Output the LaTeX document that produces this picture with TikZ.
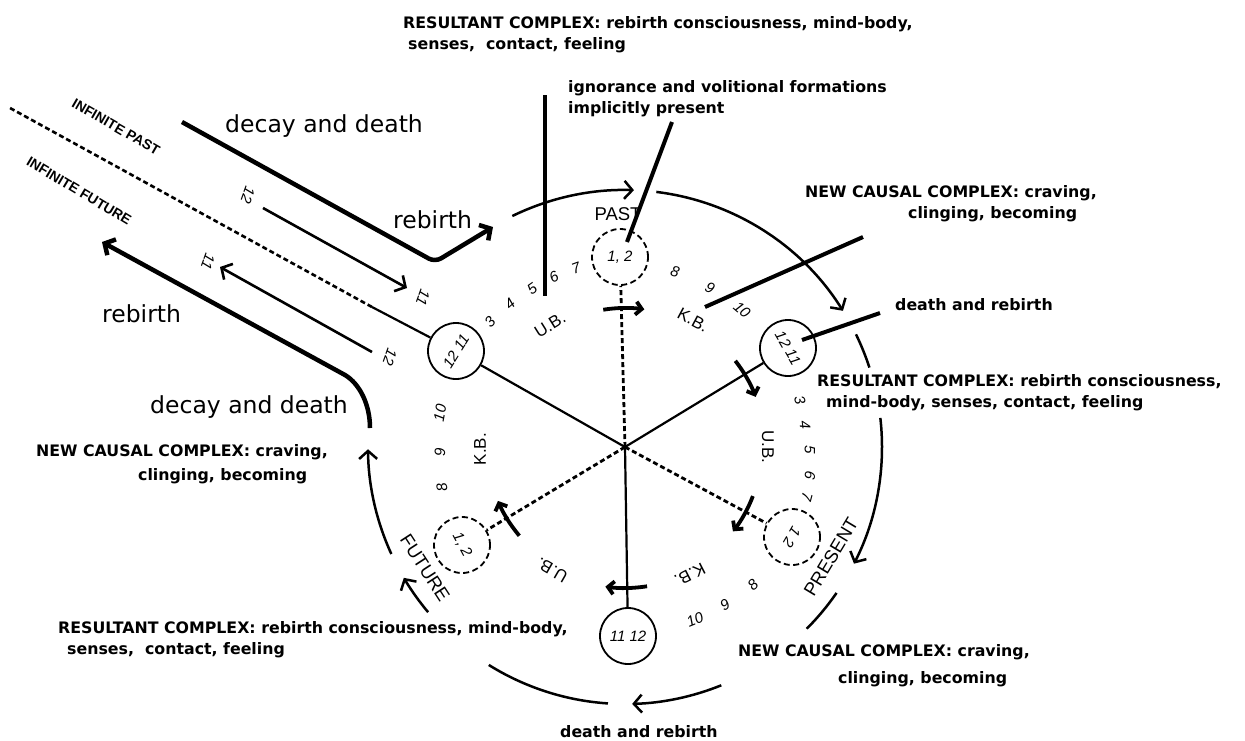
\documentclass[tikz,border=0pt]{standalone}
\usepackage{fontspec}
\setmainfont{DejaVu Sans}
\newfontfamily\lab{Liberation Sans}
\usetikzlibrary{arrows.meta,calc}
\begin{document}
\begin{tikzpicture}[x=1pt,y=1pt,
  boldlbl/.style={anchor=base west, inner sep=0, font=\bfseries\fontsize{15.8}{20}\selectfont},
  biglbl/.style={anchor=base west, inner sep=0, font=\fontsize{23.5}{28}\selectfont},
  cyclbl/.style={inner sep=0, font=\lab\fontsize{18.5}{18.5}\selectfont},
  inflbl/.style={inner sep=0, font=\lab\bfseries\fontsize{14}{14}\selectfont},
  ublbl/.style={inner sep=0, font=\lab\fontsize{17}{17}\selectfont},
  numlbl/.style={inner sep=0, font=\lab\itshape\fontsize{15}{15}\selectfont},
  cnum/.style={inner sep=0, font=\lab\itshape\fontsize{15}{15}\selectfont},
  solidc/.style={circle, draw, line width=1.8pt, minimum size=56pt, inner sep=0},
  dashc/.style={solidc, dash pattern=on 6pt off 3.5pt},
  spoke/.style={line width=2.2pt},
  dspoke/.style={line width=2.8pt, dash pattern=on 5pt off 3pt},
  outerarc/.style={line width=2.5pt},
  barb/.style={-{Straight Barb[length=8pt,width=18pt]}},
  tickarr/.style={line width=3.8pt, -{Straight Barb[length=6pt,width=13pt]}},
  leader/.style={line width=4pt},
  heavy/.style={line width=4.5pt},
  thinarr/.style={line width=2.6pt}
]
\useasboundingbox[fill=white] (0,0) rectangle (1245,-740);

% centre and circles
\coordinate (C) at (625,-447);
\node[dashc] (past) at (620,-257) {};
\node[solidc] (ul) at (456,-351) {};
\node[solidc] (ur) at (788,-348) {};
\node[dashc] (lr) at (792,-537) {};
\node[solidc] (bot) at (628,-636) {};
\node[dashc] (ll) at (462,-545) {};

\node[cnum] at (past) {1, 2};
\node[cnum, rotate=58] at (ul) {12 11};
\node[cnum, rotate=-60] at (ur) {12 11};
\node[cnum, rotate=-120] at (lr) {1 2};
\node[cnum] at (bot) {11 12};
\node[cnum, rotate=-62] at (ll) {1, 2};

% spokes
\draw[dspoke] (C) -- (past);
\draw[spoke] (C) -- (ul);
\draw[spoke] (C) -- (ur);
\draw[dspoke] (C) -- (lr);
\draw[spoke] (C) -- (bot);
\draw[dspoke] (C) -- (ll);

% ticks crossing the spokes
\draw[tickarr] ($(C)+(99:139pt)$) arc[start angle=99, end angle=82, radius=139pt];
\draw[tickarr] ($(C)+(38:140pt)$) arc[start angle=38, end angle=21, radius=140pt];
\draw[tickarr] ($(C)+(-21:137pt)$) arc[start angle=-21, end angle=-38, radius=137pt];
\draw[tickarr] ($(C)+(-81:141pt)$) arc[start angle=-81, end angle=-98, radius=141pt];
\draw[tickarr] ($(C)+(-140:138pt)$) arc[start angle=-140, end angle=-157, radius=138pt];

% outer cycle arcs
\draw[outerarc, barb] ($(C)+(116:257pt)$) arc[start angle=116, end angle=88, radius=257pt];
\draw[outerarc, barb] ($(C)+(83:257pt)$) arc[start angle=83, end angle=32, radius=257pt];
\draw[outerarc] ($(C)+(26:257pt)$) arc[start angle=26, end angle=18, radius=257pt];
\draw[outerarc, barb] ($(C)+(6.5:257pt)$) arc[start angle=6.5, end angle=-27, radius=257pt];
\draw[outerarc] ($(C)+(-34.6:257pt)$) arc[start angle=-34.6, end angle=-45, radius=257pt];
\draw[outerarc, barb] ($(C)+(-68:257pt)$) arc[start angle=-68, end angle=-88.4, radius=257pt];
\draw[outerarc] ($(C)+(-93.8:257pt)$) arc[start angle=-93.8, end angle=-122, radius=257pt];
\draw[outerarc, barb] ($(C)+(-140:257pt)$) arc[start angle=-140, end angle=-149.4, radius=257pt];
\draw[outerarc, barb] ($(C)+(-155.4:257pt)$) arc[start angle=-155.4, end angle=-179.5, radius=257pt];

% line to the infinite
\coordinate (ds) at (372,-307);
\coordinate (inf) at (10,-108);
\draw[spoke] (ul) -- (ds);
\draw[line width=2.6pt, dash pattern=on 5pt off 3pt] (ds) -- (inf);

% decay and death / rebirth strokes
\coordinate (dd1) at (182,-122);
\coordinate (dd2) at (435,-262);
\coordinate (rb1) at (493,-227);
\draw[heavy, barb, rounded corners=7pt] (dd1) -- (dd2) -- (rb1);
\coordinate (dd3) at (370,-428);
\coordinate (dd4) at (345,-375);
\coordinate (rb2) at (102,-242);
\draw[heavy, barb] (dd3) .. controls (370,-405) and (360,-384) .. (dd4) -- (rb2);

% thin arrows
\coordinate (t1a) at (263,-208);
\coordinate (t1b) at (407,-288);
\coordinate (t2a) at (372,-352);
\coordinate (t2b) at (220,-267);
\draw[thinarr, barb] (t1a) -- (t1b);
\draw[thinarr, barb] (t2a) -- (t2b);
\node[numlbl, rotate=-110] at (248,-195) {12};
\node[numlbl, rotate=-110] at (423,-298) {11};
\node[numlbl, rotate=-110] at (208,-262) {11};
\node[numlbl, rotate=-110] at (390,-357) {12};

\node[inflbl, rotate=-30] at (116,-127) {INFINITE PAST};
\node[inflbl, rotate=-31] at (79,-191) {INFINITE FUTURE};

% leader lines
\coordinate (la) at (545,-95);
\coordinate (lb) at (545,-296);
\coordinate (lc) at (672,-122);
\coordinate (ld) at (627,-242);
\coordinate (le) at (863,-237);
\coordinate (lf) at (705,-307);
\coordinate (lg) at (880,-313);
\coordinate (lh) at (802,-340);
\draw[leader] (la) -- (lb);
\draw[leader] (lc) -- (ld);
\draw[leader] (le) -- (lf);
\draw[leader] (lg) -- (lh);

% cycle labels
\node[cyclbl] at (618,-214) {PAST};
\node[cyclbl, rotate=59] at (831,-557) {PRESENT};
\node[cyclbl, rotate=-57] at (425,-568) {FUTURE};

\node[ublbl, rotate=32] at (550,-325) {U.B.};
\node[ublbl, rotate=-28] at (693,-320) {K.B.};
\node[ublbl, rotate=-90] at (768,-447) {U.B.};
\node[ublbl, rotate=-153] at (690,-575) {K.B.};
\node[ublbl, rotate=150] at (552,-570) {U.B.};
\node[ublbl, rotate=90] at (480,-449) {K.B.};

% numbers round the cycle
\node[numlbl, rotate=47] at (490,-322) {3};
\node[numlbl, rotate=41] at (510,-304) {4};
\node[numlbl, rotate=35] at (532,-289) {5};
\node[numlbl, rotate=28] at (554,-277) {6};
\node[numlbl, rotate=20] at (576,-268) {7};
\node[numlbl, rotate=-16] at (675,-272) {8};
\node[numlbl, rotate=-28] at (710,-288) {9};
\node[numlbl, rotate=-41] at (742,-310) {10};
\node[numlbl, rotate=-75] at (800,-400) {3};
\node[numlbl, rotate=-83] at (805,-425) {4};
\node[numlbl, rotate=-91] at (810,-450) {5};
\node[numlbl, rotate=-99] at (810,-475) {6};
\node[numlbl, rotate=-105] at (807,-497) {7};
\node[numlbl, rotate=43] at (753,-585) {8};
\node[numlbl, rotate=32] at (725,-605) {9};
\node[numlbl, rotate=22] at (695,-620) {10};
\node[numlbl, rotate=80] at (440,-413) {10};
\node[numlbl, rotate=90] at (440,-452) {9};
\node[numlbl, rotate=102] at (442,-487) {8};

% big labels
\node[biglbl] at (225,-132) {decay and death};
\node[biglbl] at (393,-228) {rebirth};
\node[biglbl] at (102,-322) {rebirth};
\node[biglbl] at (150,-413) {decay and death};

% bold annotations
\node[boldlbl] at (403,-28) {RESULTANT COMPLEX: rebirth consciousness, mind-body,};
\node[boldlbl] at (408,-49) {senses,\ \ contact, feeling};
\node[boldlbl] at (568,-92) {ignorance and volitional formations};
\node[boldlbl] at (568,-113) {implicitly present};
\node[boldlbl] at (805,-197) {NEW CAUSAL COMPLEX: craving,};
\node[boldlbl] at (908,-218) {clinging, becoming};
\node[boldlbl] at (895,-310) {death and rebirth};
\node[boldlbl] at (817,-386) {RESULTANT COMPLEX: rebirth consciousness,};
\node[boldlbl] at (826,-407) {mind-body, senses, contact, feeling};
\node[boldlbl] at (36,-456) {NEW CAUSAL COMPLEX: craving,};
\node[boldlbl] at (138,-480) {clinging, becoming};
\node[boldlbl] at (58,-633) {RESULTANT COMPLEX: rebirth consciousness, mind-body,};
\node[boldlbl] at (67,-654) {senses,\ \ contact, feeling};
\node[boldlbl] at (738,-656) {NEW CAUSAL COMPLEX: craving,};
\node[boldlbl] at (838,-683) {clinging, becoming};
\node[boldlbl] at (560,-737) {death and rebirth};
\end{tikzpicture}
\end{document}
